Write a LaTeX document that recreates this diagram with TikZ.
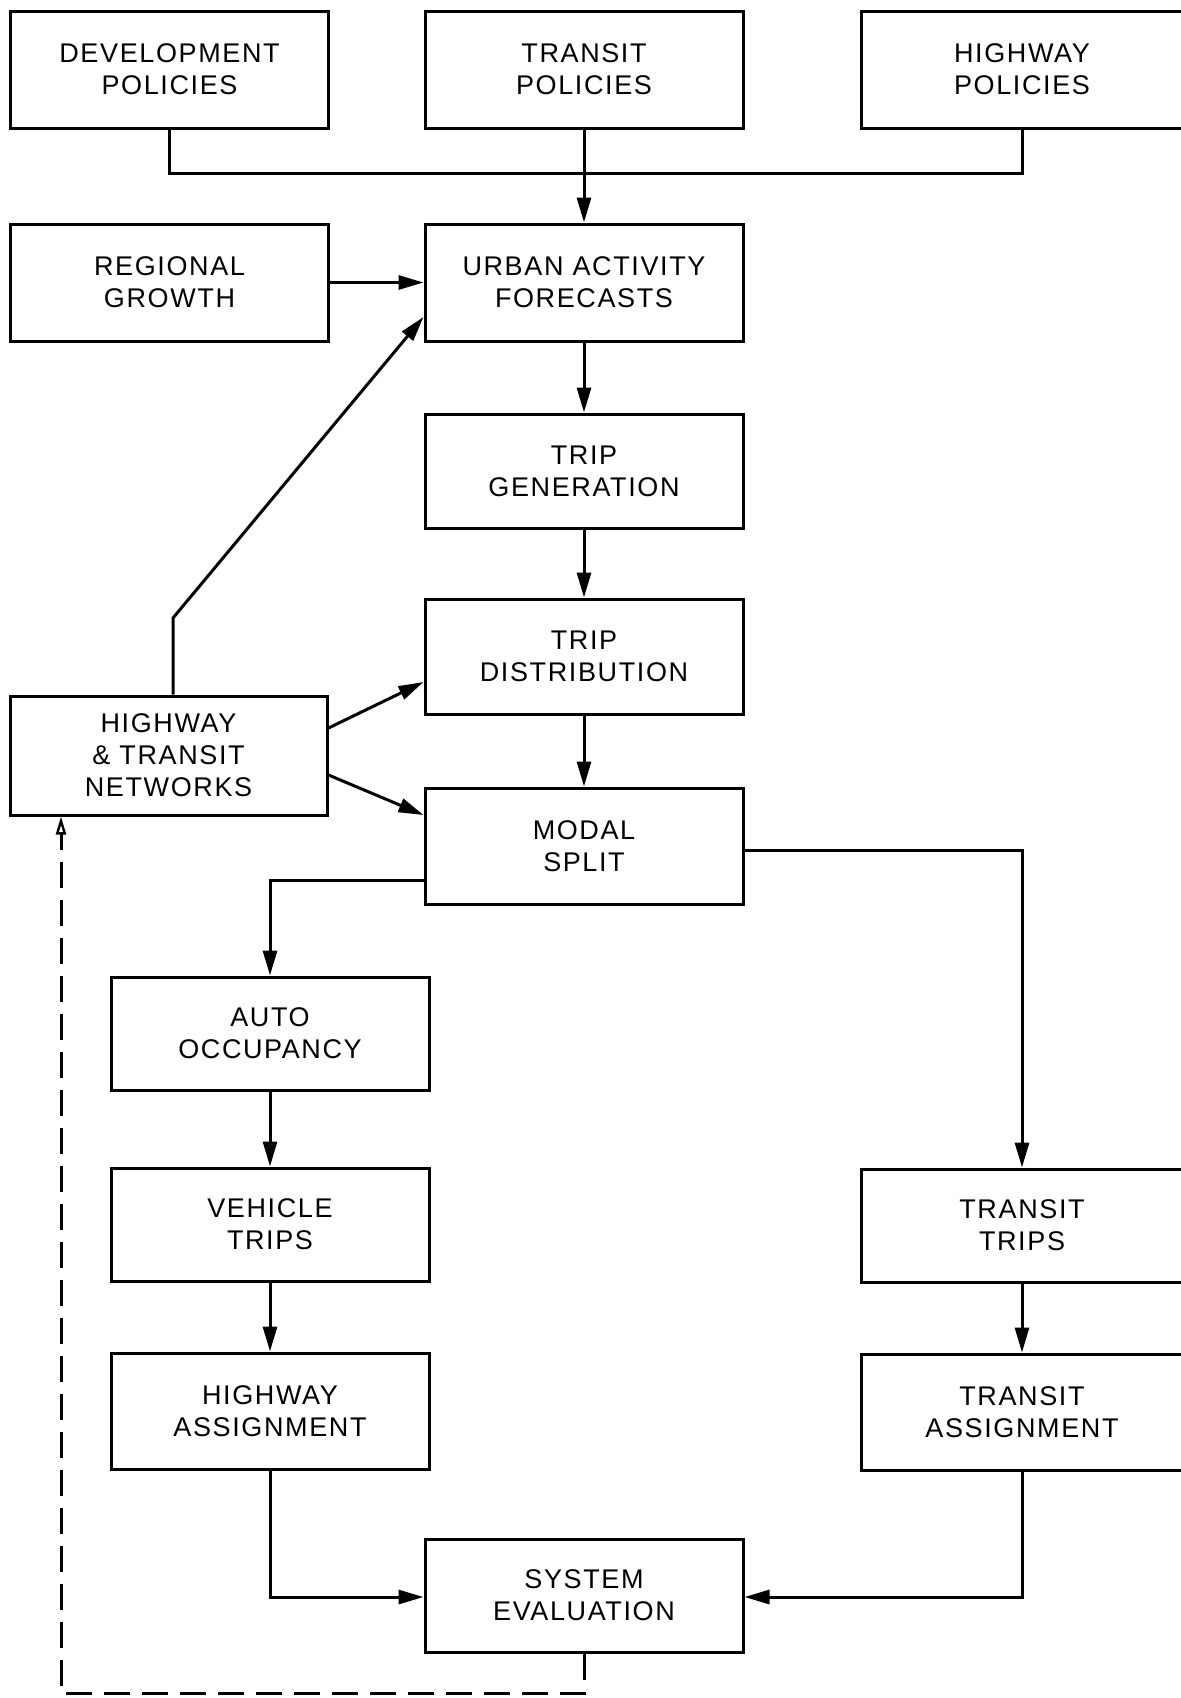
\documentclass[tikz,border=0pt]{standalone}
\usepackage{fontspec}
\setmainfont[LetterSpace=6]{Liberation Sans}
\usetikzlibrary{arrows.meta}
\begin{document}
\begin{tikzpicture}[x=1pt,y=-1pt,
  box/.style={draw, line width=3pt, align=center, inner sep=0pt,
    font=\fontsize{27}{32}\selectfont, minimum width=318pt},
  arr/.style={line width=3pt, -{Triangle[length=25pt,width=14pt]}},
  ln/.style={line width=3pt},
  dsh/.style={line width=3pt, dash pattern=on 26pt off 12pt,
    -{Triangle[open,length=18pt,width=10pt,line width=2.4pt]}}]
\useasboundingbox[fill=white] (0,0) rectangle (1181,1698);
% top row
\node[box, minimum height=117pt] (dev) at (169.5,69.5) {DEVELOPMENT\\POLICIES};
\node[box, minimum height=117pt] (tp) at (584,69.5) {TRANSIT\\POLICIES};
\node[box, minimum height=117pt, minimum width=322pt] (hp) at (1022,69.5) {HIGHWAY\\POLICIES};
% second row
\node[box, minimum height=117pt] (rg) at (169.5,282.5) {REGIONAL\\GROWTH};
\node[box, minimum height=117pt] (uaf) at (584,282.5) {URBAN ACTIVITY\\FORECASTS};
% central column
\node[box, minimum height=114pt] (tg) at (584,471) {TRIP\\GENERATION};
\node[box, minimum height=115pt] (td) at (584,656.5) {TRIP\\DISTRIBUTION};
\node[box, minimum height=119pt, minimum width=317pt] (htn) at (168.5,755.5) {HIGHWAY\\\&~TRANSIT\\NETWORKS};
\node[box, minimum height=116pt] (ms) at (584,846) {MODAL\\SPLIT};
% left column
\node[box, minimum height=113pt] (ao) at (270,1033.5) {AUTO\\OCCUPANCY};
\node[box, minimum height=113pt] (vt) at (270,1224.5) {VEHICLE\\TRIPS};
\node[box, minimum height=116pt] (ha) at (270,1411) {HIGHWAY\\ASSIGNMENT};
% right column
\node[box, minimum height=113pt, minimum width=322pt] (tt) at (1022,1225.5) {TRANSIT\\TRIPS};
\node[box, minimum height=116pt, minimum width=322pt] (ta) at (1022,1412) {TRANSIT\\ASSIGNMENT};
% bottom
\node[box, minimum height=113pt] (se) at (584,1595.5) {SYSTEM\\EVALUATION};
% helper coordinates
\coordinate (j) at (584,173);
\coordinate (bend) at (173,618);
\coordinate (fb) at (61,1693);
% policies to urban activity
\draw[ln] (dev.south) |- (j) -| (hp.south);
\draw[arr] (tp.south) -- (uaf.north);
\draw[arr] (rg.east) -- (uaf.west);
% networks
\draw[arr] (htn.north -| bend) -- (bend) -- (uaf.west |- 0,317);
\draw[arr] (htn.east |- 0,728) -- (td.west |- 0,682);
\draw[arr] (htn.east |- 0,775) -- (ms.west |- 0,815);
% central chain
\draw[arr] (uaf.south) -- (tg.north);
\draw[arr] (tg.south) -- (td.north);
\draw[arr] (td.south) -- (ms.north);
% split
\draw[arr] (ms.west |- 0,880) -| (ao.north);
\draw[arr] (ms.east |- 0,850) -| (tt.north);
\draw[arr] (ao.south) -- (vt.north);
\draw[arr] (vt.south) -- (ha.north);
\draw[arr] (tt.south) -- (ta.north);
\draw[arr] (ha.south) |- (se.west |- 0,1597);
\draw[arr] (ta.south) |- (se.east |- 0,1597);
% feedback
\draw[dsh] (se.south) |- (fb) -- (htn.south -| fb);
\end{tikzpicture}
\end{document}
